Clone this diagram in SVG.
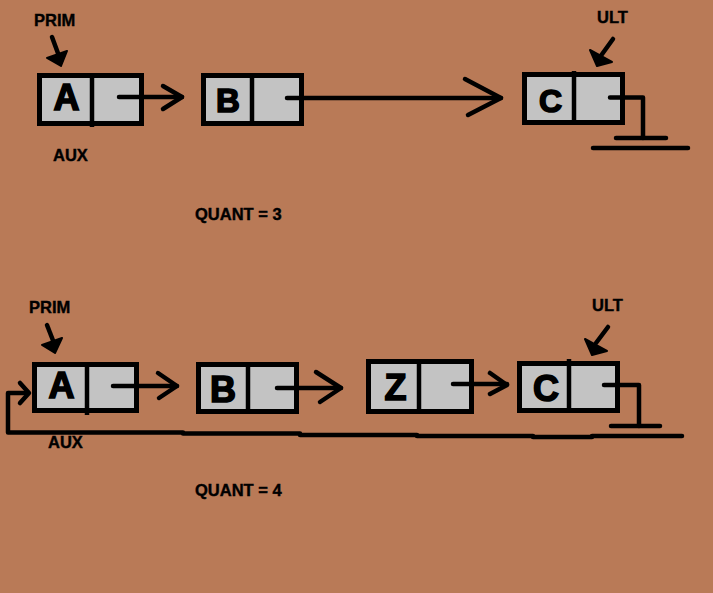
<svg xmlns="http://www.w3.org/2000/svg" width="713" height="593" viewBox="0 0 713 593">
<style>
.box{fill:#c3c3c3;stroke:#000;stroke-width:5}
.div{stroke:#000;stroke-width:4.5}
.big{font-family:"Liberation Sans",Arial,sans-serif;font-weight:bold;font-size:36px;fill:#000;stroke:#000;stroke-width:1.6;text-anchor:middle}
.lbl{font-family:"Liberation Sans",Arial,sans-serif;font-weight:bold;font-size:16.5px;fill:#000;stroke:#000;stroke-width:0.4}
.ln{fill:none;stroke:#000;stroke-width:4.5;stroke-linecap:round;stroke-linejoin:round}
.head{fill:#000;stroke:#000;stroke-width:2;stroke-linejoin:round}
</style>
<rect width="713" height="593" fill="#b97a57"/>

<g id="nodeA1"><rect class="box" x="39.5" y="75.5" width="102" height="48"/><line class="div" x1="92" y1="73" x2="92" y2="127"/><text class="big" x="66.5" y="110">A</text></g>
<g id="nodeB1"><rect class="box" x="203.5" y="75.5" width="98" height="48"/><line class="div" x1="252" y1="73" x2="252" y2="126"/><text class="big" x="228" y="112" style="font-size:33px">B</text></g>
<g id="nodeC1"><rect class="box" x="524.5" y="74.5" width="98" height="48"/><line class="div" x1="574" y1="71" x2="574" y2="125"/><text class="big" x="550.5" y="112" style="font-size:32px">C</text></g>

<g id="nodeA2"><rect class="box" x="34.5" y="364.5" width="102" height="46"/><line class="div" x1="87" y1="362" x2="87" y2="415"/><text class="big" x="61.5" y="398">A</text></g>
<g id="nodeB2"><rect class="box" x="198.5" y="364.5" width="98" height="47"/><line class="div" x1="248" y1="362" x2="248" y2="414"/><text class="big" x="223" y="402">B</text></g>
<g id="nodeZ2"><rect class="box" x="368.5" y="361.5" width="103" height="50"/><line class="div" x1="419" y1="359" x2="419" y2="414"/><text class="big" x="395.5" y="400">Z</text></g>
<g id="nodeC2"><rect class="box" x="519.5" y="363.5" width="98" height="47"/><line class="div" x1="569" y1="359" x2="569" y2="413"/><text class="big" x="546" y="401">C</text></g>

<g id="labels">
<text class="lbl" x="34" y="26">PRIM</text>
<text class="lbl" x="53" y="161">AUX</text>
<text class="lbl" x="597" y="23">ULT</text>
<text class="lbl" x="195" y="220">QUANT = 3</text>
<text class="lbl" x="29" y="313">PRIM</text>
<text class="lbl" x="48" y="448">AUX</text>
<text class="lbl" x="592" y="311">ULT</text>
<text class="lbl" x="195" y="496">QUANT = 4</text>
</g>

<g id="connectors">
<polyline class="ln" points="119,97 182,97"/>
<polyline class="ln" points="163,86 182,97 163,109"/>
<polyline class="ln" points="287,98 501,98"/>
<polyline class="ln" points="465,79 501,98 468,115"/>
<polyline class="ln" points="610,97.5 643,97.5 643,138"/>
<line class="ln" x1="616" y1="138" x2="666" y2="138"/>
<line class="ln" x1="593" y1="148" x2="688" y2="148"/>
<line class="ln" x1="52" y1="37" x2="59" y2="56"/>
<polygon class="head" points="47,58 61,66 67,51"/>
<line class="ln" x1="613" y1="39" x2="600" y2="57"/>
<polygon class="head" points="590,50 597,66 612,62"/>
<polyline class="ln" points="113,386 177,386"/>
<polyline class="ln" points="158,373 177,386 159,398"/>
<polyline class="ln" points="277,388 341,388"/>
<polyline class="ln" points="316,372 341,388 320,402"/>
<polyline class="ln" points="453,384 507,384"/>
<polyline class="ln" points="490,373 507,385 490,394"/>
<polyline class="ln" points="604,385 639,385 639,426"/>
<line class="ln" x1="611" y1="426" x2="660" y2="426"/>
<polyline class="ln" points="183,432.5 8,432.5 8,393 28,393"/>
<polyline class="ln" points="20,383 29,393 20,403"/>
<line class="ln" x1="183" y1="433.5" x2="300" y2="433.5"/>
<line class="ln" x1="300" y1="435" x2="417" y2="435"/>
<line class="ln" x1="417" y1="436" x2="533" y2="436"/>
<line class="ln" x1="533" y1="437" x2="592" y2="437"/>
<line class="ln" x1="592" y1="436" x2="682" y2="436"/>
<line class="ln" x1="47" y1="325" x2="54" y2="343"/>
<polygon class="head" points="42,345 55,353 62,338"/>
<line class="ln" x1="608" y1="327" x2="596" y2="343"/>
<polygon class="head" points="585,339 592,355 607,351"/>
</g>
</svg>
